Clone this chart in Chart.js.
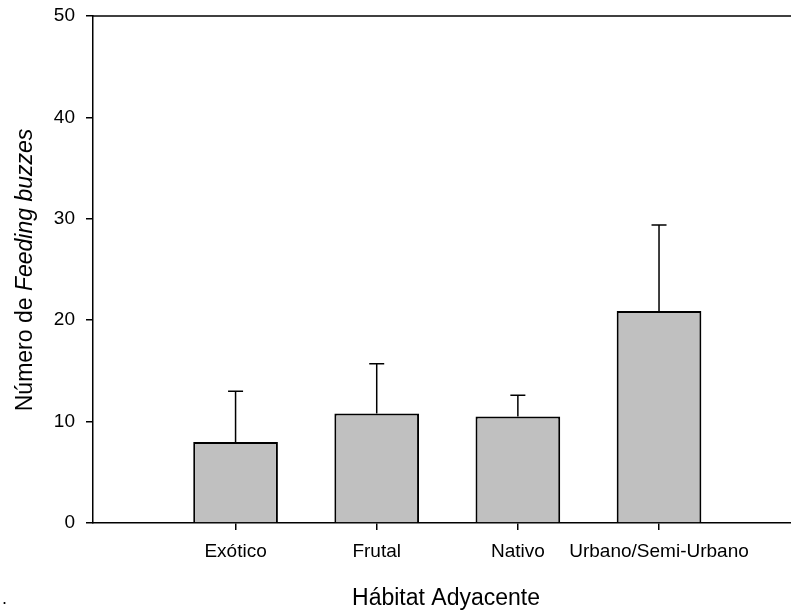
<!DOCTYPE html>
<html>
<head>
<meta charset="utf-8">
<script src="https://cdn.jsdelivr.net/npm/chart.js@4"></script>
<style>
    html, body { margin: 0; padding: 0; background: #fff; overflow: hidden; }
    #wrap { width: 791px; height: 613px; }
</style>
</head>
<body>
<div id="wrap"><canvas id="grafica" width="791" height="613"></canvas></div>
<script>
const categorias = ['Exótico', 'Frutal', 'Nativo', 'Urbano/Semi-Urbano'];
const medias = [8.0, 10.8, 10.5, 20.9];
const errores = [5.0, 4.9, 2.1, 8.5];
const ticksY = [0, 10, 20, 30, 40, 50];

const fuente = "'Liberation Sans', Arial, sans-serif";

// bigote superior con tope, solo hacia arriba
const barrasError = {
    id: 'barrasError',
    afterDatasetsDraw(chart) {
        const ctx = chart.ctx;
        const y = chart.scales.y;
        const meta = chart.getDatasetMeta(0);
        ctx.save();
        ctx.strokeStyle = '#000';
        ctx.lineWidth = 1.5;
        meta.data.forEach((barra, i) => {
            const yTop = y.getPixelForValue(medias[i] + errores[i]);
            ctx.beginPath();
            ctx.moveTo(barra.x, barra.y);
            ctx.lineTo(barra.x, yTop);
            ctx.moveTo(barra.x - 7.5, yTop);
            ctx.lineTo(barra.x + 7.5, yTop);
            ctx.stroke();
        });
        ctx.restore();
    }
};

// linea superior del marco y titulos de ejes
const marcoYTitulos = {
    id: 'marcoYTitulos',
    afterDraw(chart) {
        const ctx = chart.ctx;
        const a = chart.chartArea;
        ctx.save();
        ctx.strokeStyle = '#000';
        ctx.lineWidth = 1.5;
        ctx.beginPath();
        ctx.moveTo(a.left, a.top);
        ctx.lineTo(a.right, a.top);
        ctx.stroke();

        ctx.fillStyle = '#000';
        ctx.textBaseline = 'alphabetic';
        ctx.font = '23px ' + fuente;
        ctx.textAlign = 'center';
        ctx.fillText('Hábitat Adyacente', 446, 605);

        // titulo Y con parte en cursiva
        const p1 = 'Número de ';
        const p2 = 'Feeding buzzes';
        ctx.font = '23px ' + fuente;
        const w1 = ctx.measureText(p1).width;
        ctx.font = 'italic 23px ' + fuente;
        const w2 = ctx.measureText(p2).width;
        ctx.translate(32, 270);
        ctx.rotate(-Math.PI / 2);
        ctx.textAlign = 'left';
        const x0 = -(w1 + w2) / 2;
        ctx.font = '23px ' + fuente;
        ctx.fillText(p1, x0, 0);
        ctx.font = 'italic 23px ' + fuente;
        ctx.fillText(p2, x0 + w1, 0);
        ctx.restore();

        ctx.save();
        ctx.fillStyle = '#000';
        ctx.font = '18px ' + fuente;
        ctx.fillText('.', 2, 604);
        ctx.restore();
    }
};

const ctx = document.getElementById('grafica').getContext('2d');
new Chart(ctx, {
    type: 'bar',
    data: {
        datasets: [{
            data: medias.map((v, i) => ({ x: i, y: v })),
            backgroundColor: '#c0c0c0',
            borderColor: '#000',
            borderWidth: 2,
            categoryPercentage: 1,
            barPercentage: 0.6
        }]
    },
    options: {
        responsive: false,
        animation: false,
        devicePixelRatio: 1,
        layout: { padding: { top: 16, right: 0, left: 0, bottom: 0 } },
        plugins: { legend: { display: false }, tooltip: { enabled: false } },
        scales: {
            x: {
                type: 'linear',
                offset: false,
                min: -1.01,
                max: 3.935,
                afterBuildTicks: s => { s.ticks = categorias.map((c, i) => ({ value: i })); },
                afterFit: s => { s.height = 90; s.paddingLeft = 0; s.paddingRight = 0; },
                grid: { offset: false, drawOnChartArea: false, drawTicks: true, tickLength: 7, color: '#000', lineWidth: 1.5 },
                border: { display: true, color: '#000', width: 1.5 },
                ticks: {
                    autoSkip: false,
                    maxRotation: 0,
                    padding: 10,
                    color: '#000',
                    font: { family: fuente, size: 19 },
                    callback: v => categorias[v]
                }
            },
            y: {
                min: 0,
                max: 50,
                afterBuildTicks: s => { s.ticks = ticksY.map(v => ({ value: v })); },
                afterFit: s => { s.width = 93; s.paddingTop = 0; s.paddingBottom = 0; },
                grid: { drawOnChartArea: false, drawTicks: true, tickLength: 7, color: '#000', lineWidth: 1.5 },
                border: { display: true, color: '#000', width: 1.5 },
                ticks: {
                    padding: 11,
                    color: '#000',
                    font: { family: fuente, size: 19 }
                }
            }
        }
    },
    plugins: [barrasError, marcoYTitulos]
});
</script>
</body>
</html>
